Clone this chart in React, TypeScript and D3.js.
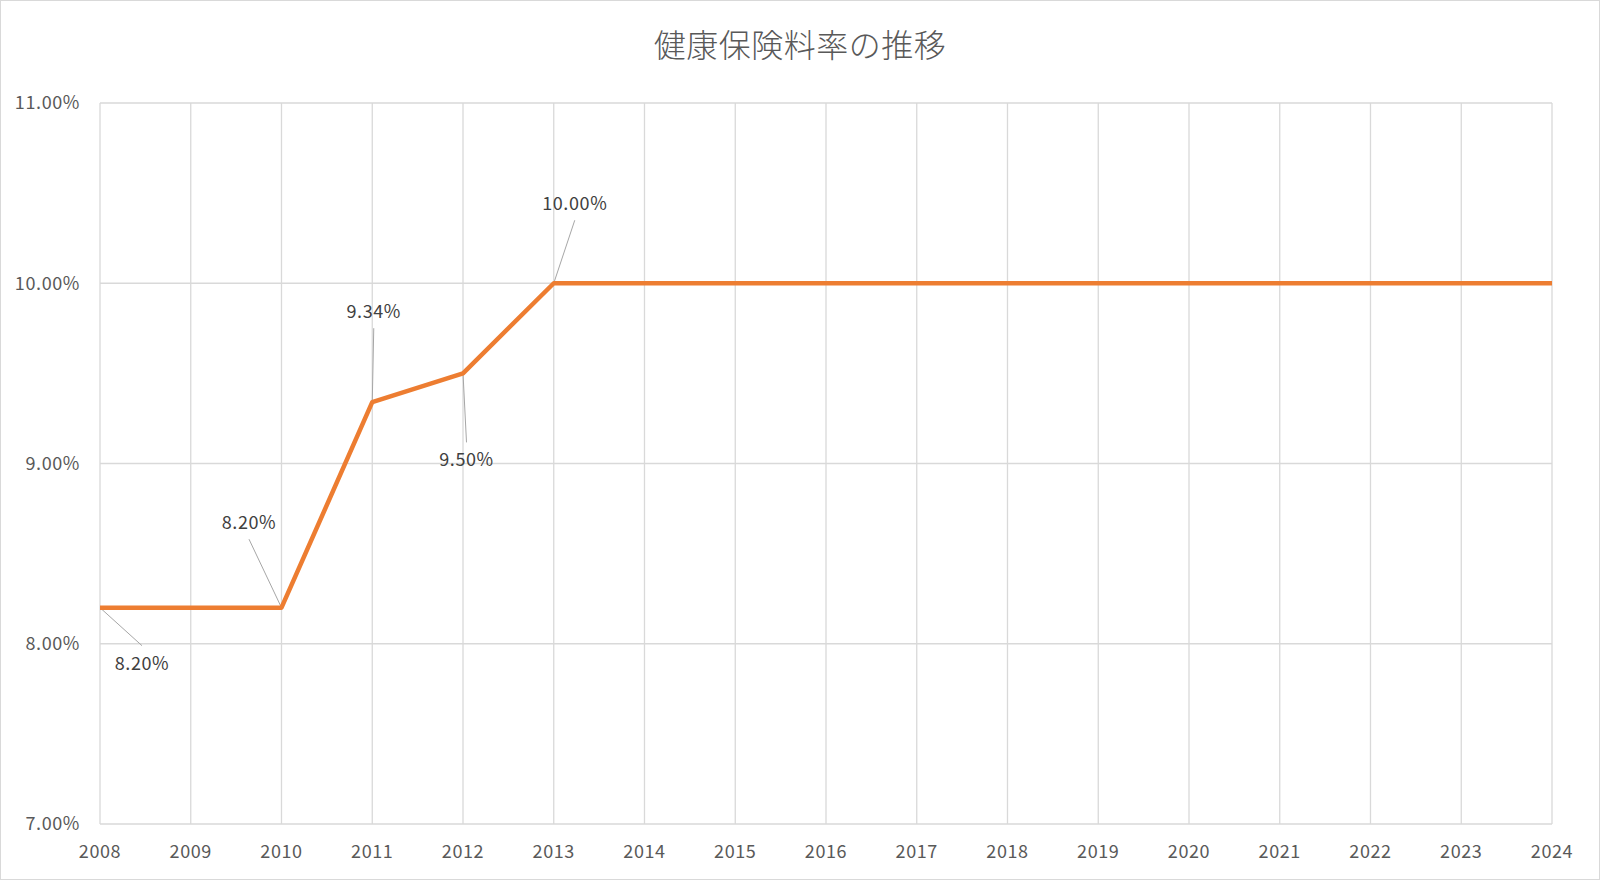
import React, { useEffect } from 'react';
import * as d3 from 'd3';

const years = [2008, 2009, 2010, 2011, 2012, 2013, 2014, 2015, 2016, 2017, 2018, 2019, 2020, 2021, 2022, 2023, 2024];
const rates = [8.2, 8.2, 8.2, 9.34, 9.5, 10.0, 10.0, 10.0, 10.0, 10.0, 10.0, 10.0, 10.0, 10.0, 10.0, 10.0, 10.0];
const yTicks = [7, 8, 9, 10, 11];
const title = '健康保険料率の推移';

// which points carry a label, and where the label sits relative to the point
const labelled = [
  { i: 0, dx: 42, dy: 62 },
  { i: 2, dx: -32.5, dy: -78.5 },
  { i: 3, dx: 1.5, dy: -84 },
  { i: 4, dx: 3.5, dy: 93 },
  { i: 5, dx: 21, dy: -73 },
];

const W = 1600;
const H = 880;
const margin = { top: 103, right: 48, bottom: 56, left: 100 };
const FONT = '"Noto Sans CJK JP", "Noto Sans", sans-serif';

const App: React.FC = () => {
  useEffect(() => {
    document.body.style.margin = '0';
  }, []);

  const x = d3.scaleLinear().domain([2008, 2024]).range([margin.left, W - margin.right]);
  const y = d3.scaleLinear().domain([7, 11]).range([H - margin.bottom, margin.top]);

  const line = d3
    .line<number>()
    .x((_, i) => x(years[i]))
    .y((d) => y(d));

  return (
    <svg width={W} height={H} style={{ display: 'block', background: '#fff' }} fontFamily={FONT}>
      <rect x={0.5} y={0.5} width={W - 1} height={H - 1} fill="#fff" stroke="#d9d9d9" />
      <text x={W / 2} y={57} textAnchor="middle" fontSize={32} fill="#595959" fontWeight={300} letterSpacing={0.5}>
        {title}
      </text>

      {/* grid */}
      <g stroke="#d9d9d9" strokeWidth={1.3}>
        {yTicks.map((t) => (
          <line key={`h${t}`} x1={x(2008)} x2={x(2024)} y1={y(t)} y2={y(t)} />
        ))}
        {years.map((yr) => (
          <line key={`v${yr}`} x1={x(yr)} x2={x(yr)} y1={y(7)} y2={y(11)} />
        ))}
      </g>

      {/* axis labels */}
      <g fontSize={18} fill="#595959" letterSpacing={0.6}>
        {yTicks.map((t) => (
          <text key={`yl${t}`} x={80} y={y(t)} dy="0.36em" textAnchor="end">
            {t.toFixed(2)}%
          </text>
        ))}
        {years.map((yr) => (
          <text key={`xl${yr}`} x={x(yr)} y={858} textAnchor="middle">
            {yr}
          </text>
        ))}
      </g>

      {/* leader lines */}
      <g stroke="#a6a6a6" strokeWidth={1}>
        {labelled.map(({ i, dx, dy }) => {
          const px = x(years[i]);
          const py = y(rates[i]);
          const ey = dy > 0 ? py + dy - 24 : py + dy + 10;
          return <line key={`ll${i}`} x1={px} y1={py} x2={px + dx} y2={ey} />;
        })}
      </g>

      <path
        d={line(rates) || undefined}
        fill="none"
        stroke="#ed7d31"
        strokeWidth={4.5}
        strokeLinejoin="round"
      />

      {/* data labels */}
      <g fontSize={18} fill="#404040" textAnchor="middle" letterSpacing={0.6}>
        {labelled.map(({ i, dx, dy }) => (
          <text key={`dl${i}`} x={x(years[i]) + dx} y={y(rates[i]) + dy}>
            {rates[i].toFixed(2)}%
          </text>
        ))}
      </g>
    </svg>
  );
};

export default App;
